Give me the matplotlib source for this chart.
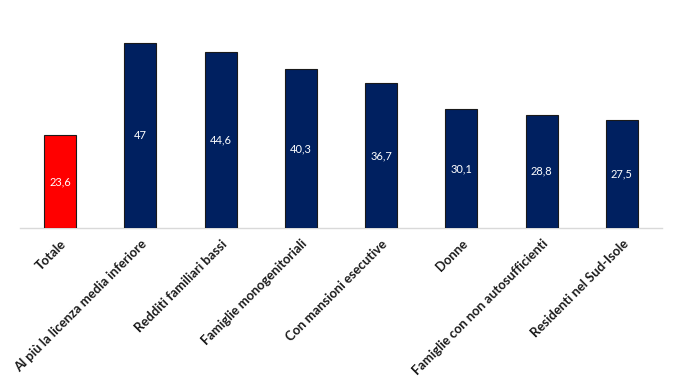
import matplotlib
matplotlib.use("Agg")
import matplotlib.pyplot as plt

categories = ["Totale", "Al più la licenza media inferiore", "Redditi familiari bassi",
              "Famiglie monogenitoriali", "Con mansioni esecutive", "Donne",
              "Famiglie con non autosufficienti", "Residenti nel Sud-Isole"]
values = [23.6, 47, 44.6, 40.3, 36.7, 30.1, 28.8, 27.5]
labels = ["23,6", "47", "44,6", "40,3", "36,7", "30,1", "28,8", "27,5"]
colors = ["#FF0000"] + ["#002060"] * 7

fig = plt.figure(figsize=(6.87, 3.84), dpi=100)
ax = fig.add_axes([20/687, (384-228)/384, 642/687, (228-31)/384])
x = range(len(categories))
bars = ax.bar(x, values, width=0.4, color=colors, edgecolor="#1a1a1a", linewidth=0.8, zorder=3)
for b, v, l in zip(bars, values, labels):
    ax.text(b.get_x() + b.get_width()/2, v/2, l, ha="center", va="center",
            color="white", fontsize=8, family="Lato", zorder=4)

ax.set_xlim(-0.5, len(categories) - 0.5)
ax.set_ylim(0, 50)
ax.set_xticks(list(x))
ax.set_xticklabels(categories, rotation=45, ha="right", rotation_mode="anchor",
                   fontsize=9.4, fontweight="bold", family="Lato", color="#1a1a1a")
ax.tick_params(axis="x", length=0, pad=7)
ax.tick_params(axis="y", left=False, labelleft=False)
for s in ["top", "right", "left"]:
    ax.spines[s].set_visible(False)
ax.spines["bottom"].set_color("#d9d9d9")
ax.spines["bottom"].set_linewidth(1)

fig.savefig("out.png", dpi=100)
